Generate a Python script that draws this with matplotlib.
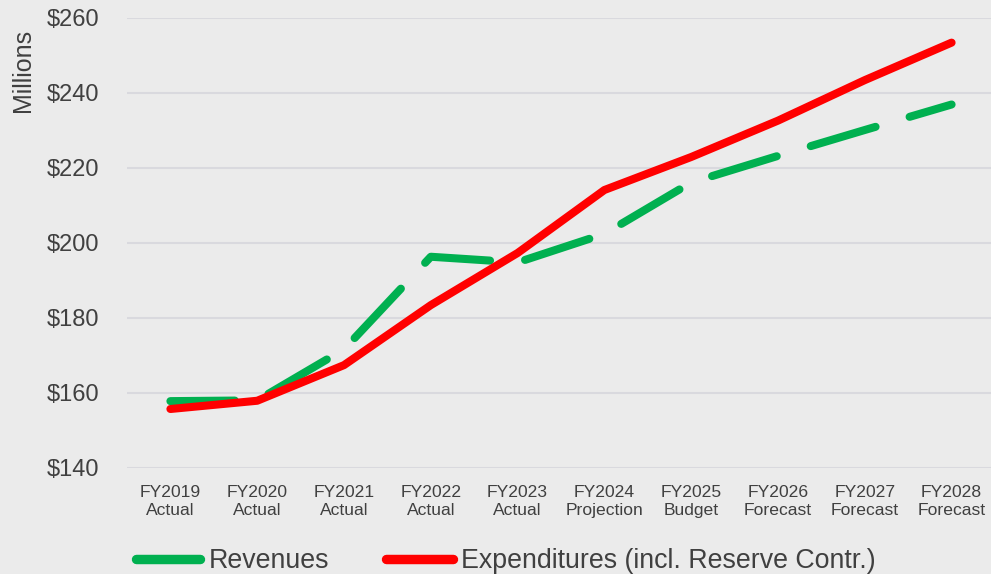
import matplotlib
matplotlib.use("Agg")
import matplotlib.pyplot as plt
from matplotlib.lines import Line2D

categories = ["FY2019\nActual", "FY2020\nActual", "FY2021\nActual", "FY2022\nActual",
              "FY2023\nActual", "FY2024\nProjection", "FY2025\nBudget",
              "FY2026\nForecast", "FY2027\nForecast", "FY2028\nForecast"]
revenues = [157.7, 157.9, 171.5, 196.2, 194.7, 202.3, 216.0, 223.1, 230.0, 236.8]
expenditures = [155.6, 157.8, 167.3, 183.3, 197.2, 214.0, 222.8, 232.5, 243.3, 253.3]
y_ticks = [140, 160, 180, 200, 220, 240, 260]
y_labels = ["$140", "$160", "$180", "$200", "$220", "$240", "$260"]
series_names = ["Revenues", "Expenditures (incl. Reserve Contr.)"]

BG = "#EBEBEB"
GRID = "#D9D9DE"
TXT = "#404040"
GREEN = "#00B050"
RED = "#FF0000"
FONT = ["Liberation Sans", "DejaVu Sans"]
plt.rcParams["font.family"] = FONT

fig = plt.figure(figsize=(9.91, 5.74), dpi=100, facecolor=BG)
ax = fig.add_axes([127/991, 106.5/574, 868/991, 450/574])
ax.set_facecolor(BG)

LW = 5.8
x = list(range(len(categories)))
ax.plot(x, revenues, color=GREEN, lw=LW, linestyle=(0.4, (8.4, 4.4)),
        dash_capstyle="round", solid_capstyle="round", zorder=3)
ax.plot(x, expenditures, color=RED, lw=LW, solid_capstyle="round",
        solid_joinstyle="round", zorder=4)

ax.set_xlim(-0.5, len(categories) - 0.5)
ax.set_ylim(140, 260)
ax.set_yticks(y_ticks)
ax.set_yticklabels(y_labels, fontsize=17, color=TXT)
ax.set_xticks(x)
ax.set_xticklabels(categories, fontsize=12.6, color=TXT, linespacing=1.25)
ax.tick_params(axis="y", length=0, pad=20)
ax.tick_params(axis="x", length=0, pad=12.5)
for s in ax.spines.values():
    s.set_visible(False)
ax.grid(axis="y", color=GRID, lw=1.5, zorder=0)
ax.set_axisbelow(True)

fig.text(23/991, 1 - 70/574, "Millions", rotation=90, ha="center", va="center",
         fontsize=18, color=TXT)

# legend: one entry per box, placed where the reference has them
LEG_FS = 19.3
for name, col, x0, x1, tx in [(series_names[0], GREEN, 136, 200, 210),
                              (series_names[1], RED, 386, 453, 462)]:
    h = Line2D([], [], color=col, lw=6.8, solid_capstyle="round")
    lg = fig.legend([h], [name], loc="center left",
                    bbox_to_anchor=(x0/991, 12.5/574), frameon=False,
                    handlelength=(x1 - x0) * 0.72 / LEG_FS,
                    handletextpad=(tx - x1 - 1) * 0.72 / LEG_FS,
                    borderpad=0.0, borderaxespad=0.0,
                    prop={"size": LEG_FS})
    for t in lg.get_texts():
        t.set_color(TXT)

fig.savefig("out.png", dpi=100, facecolor=BG)
